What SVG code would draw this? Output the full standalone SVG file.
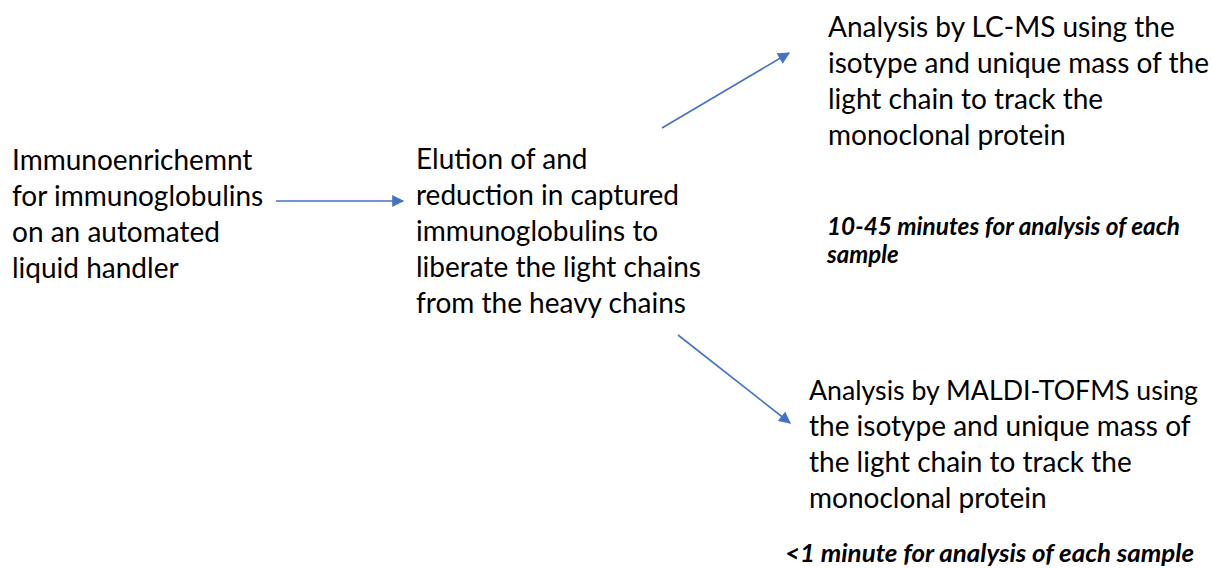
<svg xmlns="http://www.w3.org/2000/svg" width="1212" height="568" viewBox="0 0 1212 568">
<style>
.t{font-family:Lato,"Open Sans","Liberation Sans",sans-serif;font-size:28px;fill:#000}
.n{font-family:Lato,"Open Sans","Liberation Sans",sans-serif;font-size:24px;font-weight:bold;font-style:italic;fill:#000}
.c{stroke:#4472C4;stroke-width:1.6;fill:none;marker-end:url(#ah)}
</style>
<defs>
<marker id="ah" viewBox="0 0 10 10" refX="9" refY="5" markerWidth="13" markerHeight="12" markerUnits="userSpaceOnUse" orient="auto">
<path d="M0,0 L10,5 L0,10 Z" fill="#4472C4"/>
</marker>
</defs>
<rect width="1212" height="568" fill="#fff"/>
<g id="connectors">
<line class="c" x1="276" y1="201" x2="403" y2="201"/>
<line class="c" x1="662" y1="128" x2="789" y2="53"/>
<line class="c" x1="678" y1="335" x2="790" y2="423"/>
</g>
<g id="node-immuno">
<text class="t" x="12" y="170">Immunoenrichemnt</text>
<text class="t" x="12" y="206">for immunoglobulins</text>
<text class="t" x="12" y="242">on an automated</text>
<text class="t" x="12" y="278">liquid handler</text>
</g>
<g id="node-elution">
<text class="t" x="416" y="169">Elution of and</text>
<text class="t" x="416" y="205">reduction in captured</text>
<text class="t" x="416" y="241">immunoglobulins to</text>
<text class="t" x="416" y="277">liberate the light chains</text>
<text class="t" x="416" y="313">from the heavy chains</text>
</g>
<g id="node-lcms">
<text class="t" x="828" y="37">Analysis by LC-MS using the</text>
<text class="t" x="828" y="73">isotype and unique mass of the</text>
<text class="t" x="828" y="109">light chain to track the</text>
<text class="t" x="828" y="145">monoclonal protein</text>
<text class="n" x="827" y="235" textLength="353" lengthAdjust="spacingAndGlyphs">10-45 minutes for analysis of each</text>
<text class="n" x="827" y="263">sample</text>
</g>
<g id="node-maldi">
<text class="t" x="809" y="400" style="font-size:26px" textLength="389" lengthAdjust="spacingAndGlyphs">Analysis by MALDI-TOFMS using</text>
<text class="t" x="809" y="436">the isotype and unique mass of</text>
<text class="t" x="809" y="472">the light chain to track the</text>
<text class="t" x="809" y="508">monoclonal protein</text>
<text class="n" x="785" y="562" textLength="409" lengthAdjust="spacingAndGlyphs">&lt;1 minute for analysis of each sample</text>
</g>
</svg>
